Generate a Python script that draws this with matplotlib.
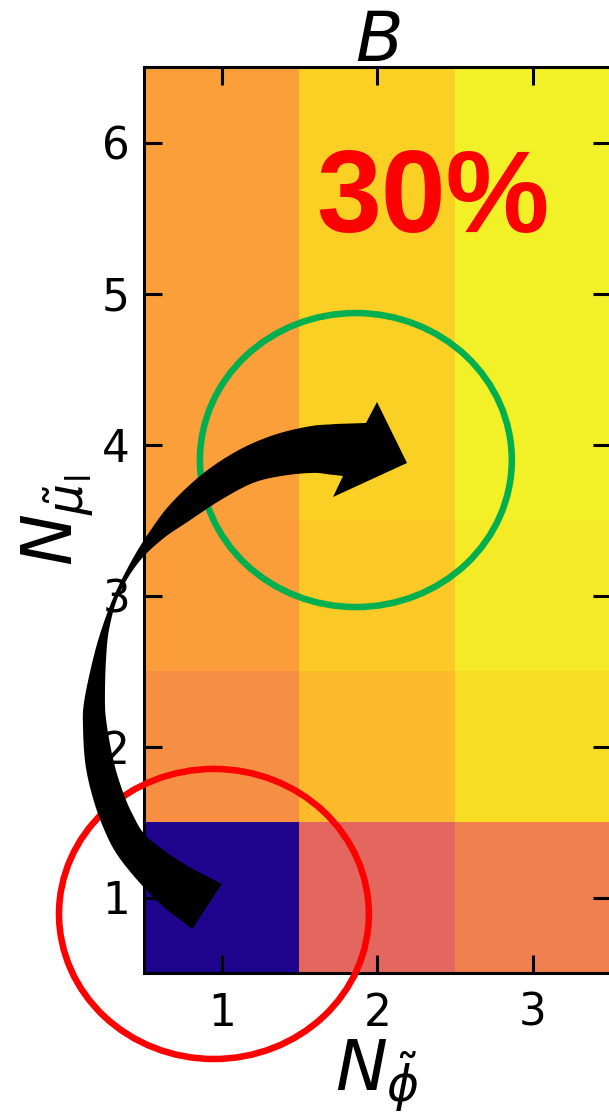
import numpy as np
import matplotlib
matplotlib.use("Agg")
import matplotlib.pyplot as plt
from matplotlib.patches import Ellipse, Polygon
from matplotlib import transforms

# grid of the heat map: N_phi along x, N_mu along y
n_phi = [1, 2, 3]
n_mu = [1, 2, 3, 4, 5, 6]

# colour value of every cell, one list per N_mu row (columns are N_phi = 1, 2, 3)
row_mu1 = [0.03, 0.61, 0.69]
row_mu2 = [0.735, 0.855, 0.935]
row_mu3 = [0.777, 0.89, 0.965]
row_mu4 = [0.78, 0.905, 0.978]
row_mu5 = [0.78, 0.905, 0.978]
row_mu6 = [0.78, 0.905, 0.978]

label_text = "30%"

W, H = 609, 1113
fig = plt.figure(figsize=(W / 100, H / 100), dpi=100)
ax = fig.add_axes([143.9 / W, (H - 973) / H, (610.8 - 143.9) / W, (973 - 67) / H])

grid = np.array([row_mu1, row_mu2, row_mu3, row_mu4, row_mu5, row_mu6])
ax.imshow(grid, cmap="plasma", vmin=0, vmax=1, origin="lower",
          extent=(n_phi[0] - 0.5, n_phi[-1] + 0.5, n_mu[0] - 0.5, n_mu[-1] + 0.5),
          aspect="auto", interpolation="nearest")

ax.set_xticks(n_phi)
ax.set_yticks(n_mu)
ax.tick_params(direction="in", length=13, width=2.2, top=True, right=True,
               labelsize=31.5)
ax.tick_params(axis="x", pad=13.5)
ax.tick_params(axis="y", pad=10)
for s in ax.spines.values():
    s.set_linewidth(2.2)

ax.set_title("$B$", fontsize=50, pad=4)
ax.set_xlabel(r"$N_{\tilde{\phi}}$", fontsize=50, labelpad=2)
ax.set_ylabel(r"$N_{\tilde{\mu}_\mathrm{l}}$", fontsize=50, labelpad=4)

ax.text(2.357, 5.407, label_text, color="red", fontsize=84, fontweight="bold",
        family="Liberation Sans", ha="center", va="baseline", zorder=4)

# circles marking the two cells
ax.add_patch(Ellipse((1.862, 3.897), 2.004, 1.947, fill=False, ec="#00b050",
                     lw=4.7, clip_on=False, zorder=5))
ax.add_patch(Ellipse((0.950, 0.891), 1.991, 1.921, fill=False, ec="red",
                     lw=4.7, clip_on=False, zorder=5))

# curved black arrow (image pixel coords, y down): centre line x, y, width
spine = np.array([
    (207, 906.5, 54), (171.5, 883, 46), (134.5, 849, 35), (117.5, 820, 32),
    (106, 789, 30), (99, 760, 28), (95, 727, 24), (94.5, 703, 21),
    (99.5, 660, 13), (106, 627, 7), (117.5, 593, 4), (136, 560, 7),
    (157, 534, 15), (180, 512, 25), (213, 486, 32), (247, 466, 36),
    (280, 455, 42), (313, 449.5, 47), (335, 449.5, 51)])
head = np.array([(366, 423), (377, 402), (407, 463), (333, 497), (343, 476)])


def catmull(P, n=20):
    P = np.vstack([2 * P[0] - P[1], P, 2 * P[-1] - P[-2]])
    out = []
    t = np.linspace(0, 1, n, endpoint=False)[:, None]
    for i in range(1, len(P) - 2):
        p0, p1, p2, p3 = P[i - 1], P[i], P[i + 1], P[i + 2]
        out.append(0.5 * (2 * p1 + (-p0 + p2) * t
                          + (2 * p0 - 5 * p1 + 4 * p2 - p3) * t ** 2
                          + (-p0 + 3 * p1 - 3 * p2 + p3) * t ** 3))
    out.append(P[-2][None])
    return np.vstack(out)


c = catmull(spine)
xy, w = c[:, :2], c[:, 2]
d = np.gradient(xy, axis=0)
d /= np.linalg.norm(d, axis=1)[:, None]
nrm = np.column_stack([-d[:, 1], d[:, 0]])
inner = xy + nrm * w[:, None] / 2
outer = xy - nrm * w[:, None] / 2
outline = np.vstack([outer, head, inner[::-1]])

px = transforms.Affine2D().scale(1, -1).translate(0, H)
fig.add_artist(Polygon(outline, closed=True, fc="black", ec="none",
                       transform=px, zorder=10))

fig.savefig("out.png", dpi=100)
